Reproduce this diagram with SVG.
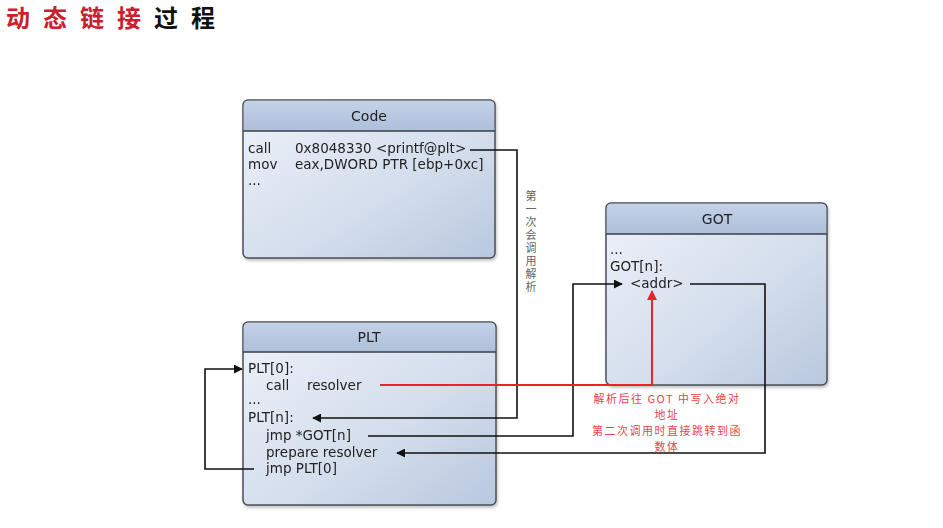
<svg xmlns="http://www.w3.org/2000/svg" width="943" height="528" viewBox="0 0 943 528">
<defs>
<linearGradient id="body" x1="0" y1="0" x2="1" y2="1">
<stop offset="0" stop-color="#eef2f9"/>
<stop offset="0.6" stop-color="#d3ddec"/>
<stop offset="1" stop-color="#b9c8df"/>
</linearGradient>
<linearGradient id="head" x1="0" y1="0" x2="0" y2="1">
<stop offset="0" stop-color="#c4d2e7"/>
<stop offset="1" stop-color="#aebfda"/>
</linearGradient>
<marker id="ab" viewBox="0 0 10 10" refX="9" refY="5" markerWidth="9" markerHeight="9" markerUnits="userSpaceOnUse" orient="auto">
<path d="M0,0 L10,5 L0,10 Z" fill="#111"/>
</marker>
<marker id="ar" viewBox="0 0 10 10" refX="9" refY="5" markerWidth="10" markerHeight="10" markerUnits="userSpaceOnUse" orient="auto">
<path d="M0,0 L10,5 L0,10 Z" fill="#e8242a"/>
</marker>
<filter id="sh" x="-5%" y="-5%" width="110%" height="110%">
<feDropShadow dx="1" dy="2" stdDeviation="1.5" flood-color="#000" flood-opacity="0.25"/>
</filter>
</defs>
<style>
.box{fill:url(#body);stroke:#4a4f57;stroke-width:1.5}
.hd{fill:url(#head)}
.sep{stroke:#3a3f47;stroke-width:1.5}
.t{font-family:"DejaVu Sans","Open Sans",sans-serif;font-size:13.5px;fill:#222}
.ttl{font-family:"DejaVu Sans","Open Sans",sans-serif;font-size:14px;fill:#222;text-anchor:middle}
.c{fill:none;stroke:#111;stroke-width:1.6}
.r{fill:none;stroke:#e8242a;stroke-width:2}
.rt{font-family:"Noto Sans CJK SC","Noto Sans",sans-serif;font-size:11px;letter-spacing:1.5px;fill:#e8454a;text-anchor:middle}
.vt{font-family:"Noto Sans CJK SC",sans-serif;font-size:11px;fill:#666;writing-mode:vertical-rl;letter-spacing:2px}
</style>
<rect width="943" height="528" fill="#ffffff"/>
<g id="title">
<text x="6" y="27" font-family="'Noto Sans CJK SC',sans-serif" font-size="24" font-weight="bold" letter-spacing="13"><tspan fill="#c8202c">动态链接</tspan><tspan fill="#111">过程</tspan></text>
</g>
<g id="code" filter="url(#sh)">
<rect class="box" x="243" y="100" width="252" height="158" rx="5"/>
<path class="hd" d="M248,100.8 H490 A4.2,4.2 0 0 1 494.2,105 V131 H243.8 V105 A4.2,4.2 0 0 1 248,100.8 Z"/>
<line class="sep" x1="243" y1="131" x2="495" y2="131"/>
<text class="ttl" x="369" y="121">Code</text>
<text class="t" x="248" y="153">call</text>
<text class="t" x="295" y="153">0x8048330 &lt;printf@plt&gt;</text>
<text class="t" x="248" y="169">mov</text>
<text class="t" x="295" y="169">eax,DWORD PTR [ebp+0xc]</text>
<text class="t" x="248" y="185">...</text>
</g>
<g id="got" filter="url(#sh)">
<rect class="box" x="606" y="203" width="221" height="182" rx="5"/>
<path class="hd" d="M611,203.8 H822 A4.2,4.2 0 0 1 826.2,208 V234 H606.8 V208 A4.2,4.2 0 0 1 611,203.8 Z"/>
<line class="sep" x1="606" y1="234" x2="827" y2="234"/>
<text class="ttl" x="717" y="224">GOT</text>
<text class="t" x="610" y="254">...</text>
<text class="t" x="610" y="271">GOT[n]:</text>
<text class="t" x="630" y="288">&lt;addr&gt;</text>
</g>
<g id="plt" filter="url(#sh)">
<rect class="box" x="243" y="322" width="253" height="183" rx="5"/>
<path class="hd" d="M248,322.8 H491 A4.2,4.2 0 0 1 495.2,327 V352 H243.8 V327 A4.2,4.2 0 0 1 248,322.8 Z"/>
<line class="sep" x1="243" y1="352" x2="496" y2="352"/>
<text class="ttl" x="369" y="342">PLT</text>
<text class="t" x="248" y="373">PLT[0]:</text>
<text class="t" x="266" y="390">call</text>
<text class="t" x="307" y="390">resolver</text>
<text class="t" x="248" y="404">...</text>
<text class="t" x="248" y="422">PLT[n]:</text>
<text class="t" x="266" y="440">jmp *GOT[n]</text>
<text class="t" x="266" y="457">prepare resolver</text>
<text class="t" x="266" y="473">jmp PLT[0]</text>
</g>
<g id="connectors">
<path class="c" d="M470,150 H517 V418 H313" marker-end="url(#ab)"/>
<path class="c" d="M368,436 H573 V284 H622" marker-end="url(#ab)"/>
<path class="c" d="M690,284 H765 V453 H397" marker-end="url(#ab)"/>
<path class="c" d="M254,469 H205 V369 H242" marker-end="url(#ab)"/>
<path class="r" d="M380,385 H652 V291" marker-end="url(#ar)"/>
</g>
<g id="labels">
<text class="vt" x="531" y="190">第一次会调用解析</text>
<text class="rt" x="667" y="403"><tspan x="667" y="403">解析后往 GOT 中写入绝对</tspan><tspan x="667" y="419">地址</tspan><tspan x="667" y="435">第二次调用时直接跳转到函</tspan><tspan x="667" y="451">数体</tspan></text>
</g>
</svg>
